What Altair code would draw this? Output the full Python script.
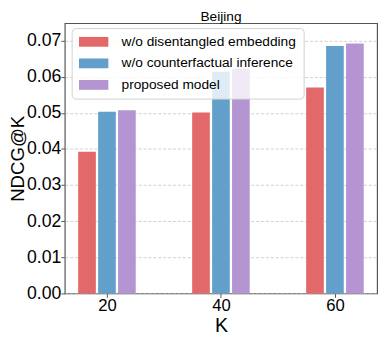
import altair as alt
import pandas as pd

K = [20, 40, 60]
models = ["w/o disentangled embedding", "w/o counterfactual inference", "proposed model"]
vals_no_disent = [0.0392, 0.0501, 0.0570]
vals_no_cf = [0.0503, 0.0614, 0.0685]
vals_proposed = [0.0507, 0.0622, 0.0692]
colors = ["#e26869", "#62a0cb", "#b495d1"]
y_ticks = [0.0, 0.01, 0.02, 0.03, 0.04, 0.05, 0.06, 0.07]

offsets = [-3.5, 0.0, 3.5]
bar_w = 3.1
rows = []
for m, off, series in zip(models, offsets, [vals_no_disent, vals_no_cf, vals_proposed]):
    for k, v in zip(K, series):
        rows.append({"K": k, "model": m, "value": v, "x0": k + off - bar_w / 2, "x1": k + off + bar_w / 2})
df = pd.DataFrame(rows)

FONT = "Liberation Sans"

chart = alt.Chart(df).mark_bar().encode(
    x=alt.X("x0:Q", scale=alt.Scale(domain=[12.6, 67.4], nice=False, zero=False),
            axis=alt.Axis(values=K, title="K", grid=False, format="d", labelFontSize=17,
                          titleFontSize=20, titleFontWeight="normal", labelPadding=0,
                          titlePadding=3, tickSize=4, tickColor="#555", domain=False,
                          labelColor="black", titleColor="black", labelFont=FONT, titleFont=FONT)),
    x2="x1:Q",
    y=alt.Y("value:Q", scale=alt.Scale(domain=[0, 0.0748], nice=False),
            axis=alt.Axis(values=y_ticks, format=".2f", title="NDCG@K", labelFontSize=18,
                          titleFontSize=19, titleFontWeight="normal", labelPadding=0,
                          titlePadding=-1, tickSize=4, tickColor="#555", domain=False,
                          grid=True, gridColor="#c4c4c4", gridDash=[3, 2], gridWidth=0.8,
                          labelColor="black", titleColor="black", labelFont=FONT, titleFont=FONT)),
    y2=alt.datum(0),
    color=alt.Color("model:N", sort=models,
                    scale=alt.Scale(domain=models, range=colors),
                    legend=alt.Legend(title=None, orient="none", legendX=7, legendY=5,
                                      symbolType="M-3,-1H3V1H-3Z", symbolSize=100,
                                      symbolStrokeWidth=0, symbolOffset=8.5,
                                      labelFontSize=14, labelFont=FONT, labelColor="black",
                                      labelLimit=400,
                                      labelOffset=21.5, rowPadding=8, padding=7,
                                      fillColor="rgba(255,255,255,0.8)", strokeColor="#d0d0d0",
                                      cornerRadius=4)),
).properties(
    width=319, height=276,
    title=alt.TitleParams("Beijing", fontSize=14, fontWeight="normal", font=FONT,
                          color="black", offset=-1),
    autosize=alt.AutoSizeParams(type="none"),
    padding={"left": 58, "top": 12, "right": 5, "bottom": 44},
).configure_view(
    stroke="#555", strokeWidth=1.2
)

chart.save("out.html", embed_options={"renderer": "svg", "actions": False})
